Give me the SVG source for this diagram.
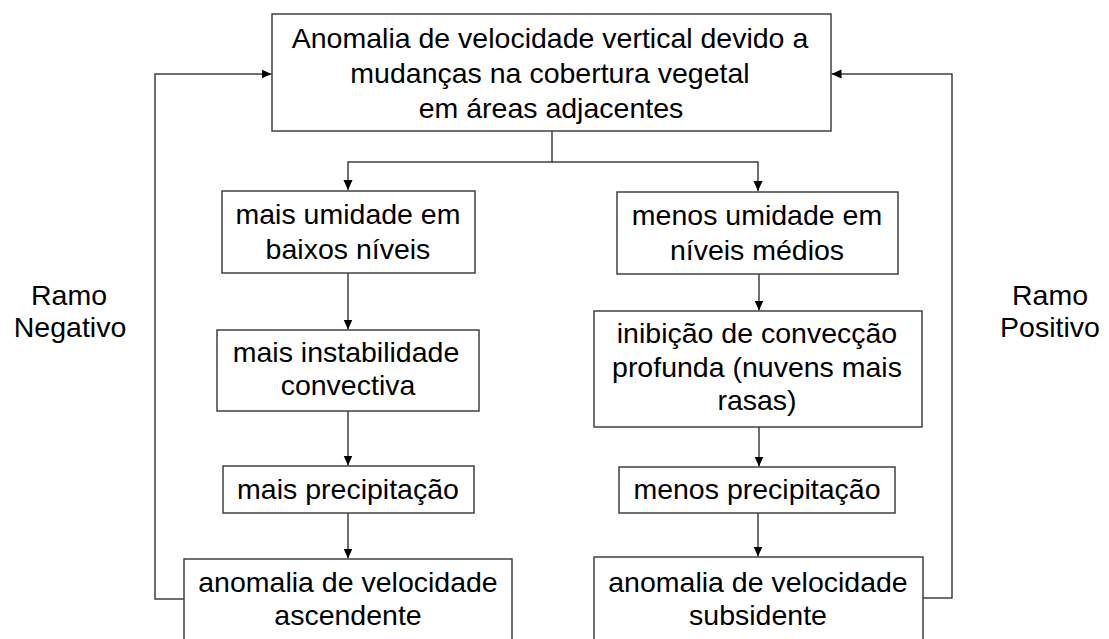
<svg xmlns="http://www.w3.org/2000/svg" width="1109" height="639" viewBox="0 0 1109 639">
<style>
.box{fill:#ffffff;stroke:#404040;stroke-width:1.5}
.t{font-family:"Liberation Sans",Arial,sans-serif;font-size:28.5px;fill:#000;text-anchor:middle}
.c{fill:none;stroke:#404040;stroke-width:1.5}
</style>
<defs>
<marker id="ah" viewBox="0 0 10 10" refX="10" refY="5" markerWidth="10" markerHeight="10" markerUnits="userSpaceOnUse" orient="auto">
<path d="M0,0.5 L10,5 L0,9.5 Z" fill="#000"/>
</marker>
</defs>
<rect width="1109" height="639" fill="#fff"/>
<g id="connectors">
<path class="c" d="M552,131 V162 H348 V190" marker-end="url(#ah)"/>
<path class="c" d="M552,162 H758 V191" marker-end="url(#ah)"/>
<path class="c" d="M348,273 V329.5" marker-end="url(#ah)"/>
<path class="c" d="M348,411 V465.5" marker-end="url(#ah)"/>
<path class="c" d="M348,513 V558.5" marker-end="url(#ah)"/>
<path class="c" d="M759,274 V310.5" marker-end="url(#ah)"/>
<path class="c" d="M759,427 V466.5" marker-end="url(#ah)"/>
<path class="c" d="M758,513 V556.5" marker-end="url(#ah)"/>
<path class="c" d="M184,599 H155 V74 H271.5" marker-end="url(#ah)"/>
<path class="c" d="M923,598 H952 V74 H831.5" marker-end="url(#ah)"/>
</g>
<g id="n-top">
<rect class="box" x="272" y="14" width="559" height="117"/>
<text class="t" x="550" y="48">Anomalia de velocidade vertical devido a</text>
<text class="t" x="550" y="83">mudanças na cobertura vegetal</text>
<text class="t" x="551" y="118">em áreas adjacentes</text>
</g>
<g id="n-l1">
<rect class="box" x="222" y="191" width="253" height="82"/>
<text class="t" x="348" y="224">mais umidade em</text>
<text class="t" x="348" y="259">baixos níveis</text>
</g>
<g id="n-l2">
<rect class="box" x="217" y="330" width="262" height="81"/>
<text class="t" x="346" y="362">mais instabilidade</text>
<text class="t" x="348" y="395">convectiva</text>
</g>
<g id="n-l3">
<rect class="box" x="223" y="466" width="251" height="47"/>
<text class="t" x="348" y="499">mais precipitação</text>
</g>
<g id="n-l4">
<rect class="box" x="184" y="559" width="328" height="100"/>
<text class="t" x="348" y="592">anomalia de velocidade</text>
<text class="t" x="348" y="625">ascendente</text>
</g>
<g id="n-r1">
<rect class="box" x="617" y="192" width="281" height="82"/>
<text class="t" x="757" y="225">menos umidade em</text>
<text class="t" x="757" y="260">níveis médios</text>
</g>
<g id="n-r2">
<rect class="box" x="594" y="311" width="328" height="116"/>
<text class="t" x="757" y="343">inibição de convecção</text>
<text class="t" x="757" y="377">profunda (nuvens mais</text>
<text class="t" x="757" y="410">rasas)</text>
</g>
<g id="n-r3">
<rect class="box" x="619" y="467" width="276" height="46"/>
<text class="t" x="757" y="499">menos precipitação</text>
</g>
<g id="n-r4">
<rect class="box" x="594" y="557" width="329" height="100"/>
<text class="t" x="758" y="592">anomalia de velocidade</text>
<text class="t" x="758" y="625">subsidente</text>
</g>
<g id="lbl-neg">
<text class="t" x="69" y="305">Ramo</text>
<text class="t" x="70" y="337">Negativo</text>
</g>
<g id="lbl-pos">
<text class="t" x="1050" y="305">Ramo</text>
<text class="t" x="1050" y="337">Positivo</text>
</g>
</svg>
